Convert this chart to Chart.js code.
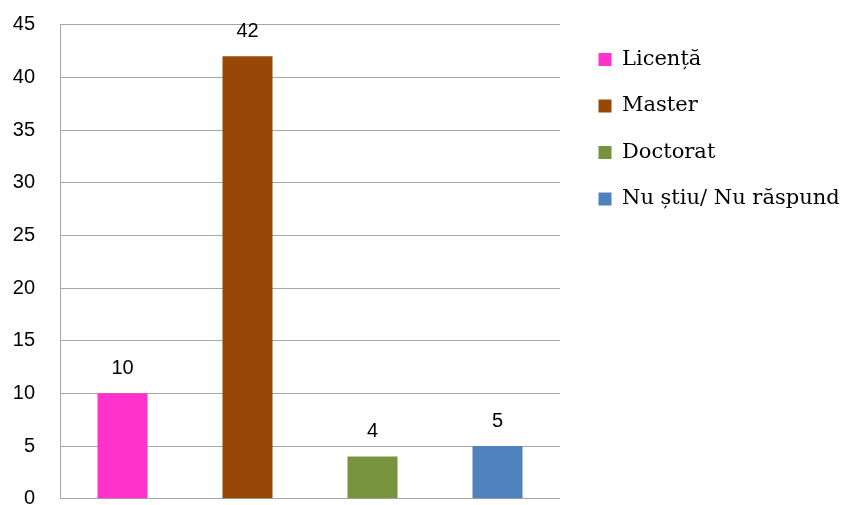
<!DOCTYPE html>
<html><head><meta charset="utf-8">
<script src="https://cdn.jsdelivr.net/npm/chart.js@4"></script>
<style>html,body{margin:0;padding:0;background:#fff;overflow:hidden}#wrap{width:844px;height:505px;position:relative}</style>
</head><body><div id="wrap"><canvas id="c"></canvas></div>
<script>
const categories = ["Licență", "Master", "Doctorat", "Nu știu/ Nu răspund"];
const values = [10, 42, 4, 5];
const barColors = ["#FF33CC", "#974806", "#77933C", "#4F81BD"];
const yTicks = [0, 5, 10, 15, 20, 25, 30, 35, 40, 45];

const valueLabels = {
  id: 'valueLabels',
  afterDatasetsDraw(chart) {
    const ctx = chart.ctx;
    const meta = chart.getDatasetMeta(0);
    ctx.save();
    ctx.font = '20px "Liberation Sans"';
    ctx.fillStyle = '#000';
    ctx.textAlign = 'center';
    ctx.textBaseline = 'middle';
    meta.data.forEach((bar, i) => {
      ctx.fillText(String(values[i]), bar.x, bar.y - 25);
    });
    ctx.restore();
  }
};

// let the right-hand legend take the width its labels need
const widenLegend = {
  id: 'widenLegend',
  beforeLayout(chart) {
    const lg = chart.legend;
    if (lg && !lg._widened) {
      const orig = lg.fit;
      lg.fit = function () { orig.call(this); this.width = 271; };
      lg._widened = true;
    }
  }
};

function build() {
  new Chart(document.getElementById('c'), {
    type: 'bar',
    data: {
      labels: categories,
      datasets: [{ data: values, backgroundColor: barColors, borderWidth: 0, categoryPercentage: 0.4, barPercentage: 1 }]
    },
    options: {
      responsive: true,
      maintainAspectRatio: false,
      animation: false,
      layout: { padding: { left: 0, top: 23.5, right: 0, bottom: 0 } },
      plugins: {
        tooltip: { enabled: false },
        legend: {
          position: 'right',
          align: 'start',
          labels: {
            boxWidth: 13,
            boxHeight: 13,
            padding: 25.5,
            color: '#000',
            font: { family: '"DejaVu Serif"', size: 21 },
            generateLabels(chart) {
              return categories.map((c, i) => ({ text: c, fillStyle: barColors[i], strokeStyle: barColors[i], lineWidth: 0, index: i }));
            }
          }
        }
      },
      scales: {
        x: { display: false },
        y: {
          min: 0, max: 45,
          afterBuildTicks(scale) { scale.ticks = yTicks.map(v => ({ value: v })); },
          afterFit(scale) { scale.width = 60; scale.paddingTop = 24.7; scale.paddingBottom = 6.3; },
          ticks: { color: '#000', padding: 25, font: { family: '"Liberation Sans"', size: 20 } },
          grid: { color: '#A6A6A6', lineWidth: 1, drawTicks: false },
          border: { color: '#A6A6A6', width: 1 }
        },
        gap: {
          position: 'right',
          display: true,
          min: 0, max: 1,
          afterFit(scale) { scale.width = 13; },
          ticks: { display: false },
          grid: { display: false, drawTicks: false },
          border: { display: false }
        }
      }
    },
    plugins: [widenLegend, valueLabels]
  });
}

Promise.all([
  document.fonts.load('21px "DejaVu Serif"', 'Licență știu'),
  document.fonts.load('20px "Liberation Sans"', '0123456789')
]).then(build, build);
</script></body></html>
